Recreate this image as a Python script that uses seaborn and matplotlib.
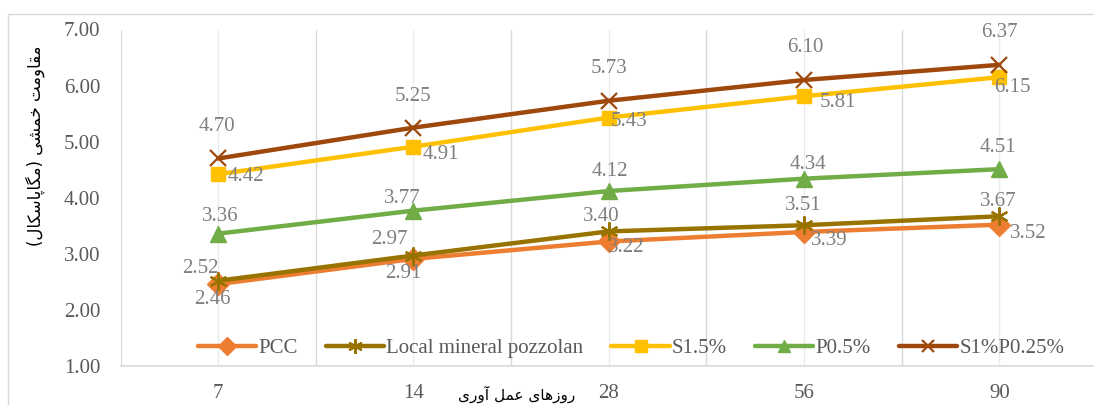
import numpy as np
import pandas as pd
import matplotlib
matplotlib.use("Agg")
import matplotlib.pyplot as plt
from matplotlib.patches import Rectangle
import seaborn as sns

# ---------------- data ----------------
days = ["7", "14", "28", "56", "90"]
series_names = ["PCC", "Local mineral pozzolan", "S1.5%", "P0.5%", "S1%P0.25%"]
pcc = [2.46, 2.91, 3.22, 3.39, 3.52]
local_pozzolan = [2.52, 2.97, 3.40, 3.51, 3.67]
s15 = [4.42, 4.91, 5.43, 5.81, 6.15]
p05 = [3.36, 3.77, 4.12, 4.34, 4.51]
s1p025 = [4.70, 5.25, 5.73, 6.10, 6.37]
yticks = [1, 2, 3, 4, 5, 6, 7]
ylabel_text = "مقاومت خمشی (مگاپاسکال)"
xlabel_text = "روزهای عمل آوری"

values = [pcc, local_pozzolan, s15, p05, s1p025]
df = pd.DataFrame({
    "day": [d for _ in series_names for d in days],
    "value": [v for vals in values for v in vals],
    "series": [n for n in series_names for _ in days],
})

# ---------------- styles ----------------
styles = {
    "PCC": dict(color="#ED7D31", marker="D", ms=11, mew=1.0),
    "Local mineral pozzolan": dict(color="#997300", marker=(6, 2, 0), ms=13, mew=1.6),
    "S1.5%": dict(color="#FFC000", marker="s", ms=10.5, mew=1.0),
    "P0.5%": dict(color="#70AD47", marker="^", ms=11.5, mew=1.0),
    "S1%P0.25%": dict(color="#9E480E", marker="x", ms=11, mew=1.6),
}
# label offsets in pixels (dx right, dy down)
label_offsets = {
    "PCC": [(-6, 16), (-10, 16), (17, 7), (25, 10), (29, 10)],
    "Local mineral pozzolan": [(-18, -11), (-24, -15), (-8, -14), (-1, -19), (-1, -14)],
    "S1.5%": [(28, 3), (27, 9), (20, 5), (34, 7), (13, 11)],
    "P0.5%": [(2, -16), (-11, -11), (1, -19), (4, -13), (-1, -21)],
    "S1%P0.25%": [(-1, -31), (0, -30), (0, -31), (1, -31), (0, -31)],
}

# ---------------- arabic shaping helper ----------------
FORMS = {
    "\u0627": ("\uFE8D", "\uFE8E", None, None),
    "\u0622": ("\uFE81", "\uFE82", None, None),
    "\u0648": ("\uFEED", "\uFEEE", None, None),
    "\u0631": ("\uFEAD", "\uFEAE", None, None),
    "\u0632": ("\uFEAF", "\uFEB0", None, None),
    "\u067E": ("\uFB56", "\uFB57", "\uFB58", "\uFB59"),
    "\u062A": ("\uFE95", "\uFE96", "\uFE97", "\uFE98"),
    "\u062E": ("\uFEA5", "\uFEA6", "\uFEA7", "\uFEA8"),
    "\u0633": ("\uFEB1", "\uFEB2", "\uFEB3", "\uFEB4"),
    "\u0634": ("\uFEB5", "\uFEB6", "\uFEB7", "\uFEB8"),
    "\u0639": ("\uFEC9", "\uFECA", "\uFECB", "\uFECC"),
    "\u0642": ("\uFED5", "\uFED6", "\uFED7", "\uFED8"),
    "\u06A9": ("\uFB8E", "\uFB8F", "\uFB90", "\uFB91"),
    "\u0643": ("\uFB8E", "\uFB8F", "\uFB90", "\uFB91"),
    "\u06AF": ("\uFB92", "\uFB93", "\uFB94", "\uFB95"),
    "\u0644": ("\uFEDD", "\uFEDE", "\uFEDF", "\uFEE0"),
    "\u0645": ("\uFEE1", "\uFEE2", "\uFEE3", "\uFEE4"),
    "\u0647": ("\uFEE9", "\uFEEA", "\uFEEB", "\uFEEC"),
    "\u06CC": ("\uFBFC", "\uFBFD", "\uFBFE", "\uFBFF"),
    "\u064A": ("\uFBFC", "\uFBFD", "\uFBFE", "\uFBFF"),
    "\u0649": ("\uFBFC", "\uFBFD", "\uFBFE", "\uFBFF"),
}


def shape_rtl(s):
    chars = list(s)
    out = []
    for i, c in enumerate(chars):
        if c not in FORMS:
            out.append(c)
            continue
        prev = chars[i - 1] if i > 0 else None
        nxt = chars[i + 1] if i + 1 < len(chars) else None
        f = FORMS[c]
        jp = prev in FORMS and FORMS[prev][2] is not None
        jn = f[2] is not None and nxt in FORMS
        if jp and jn:
            g = f[3]
        elif jp:
            g = f[1]
        elif jn:
            g = f[2]
        else:
            g = f[0]
        out.append(g)
    vis = "".join(reversed(out))
    return vis.translate(str.maketrans("()", ")("))


# ---------------- figure ----------------
sns.set_style("white")
plt.rcParams["font.family"] = ["Liberation Serif", "DejaVu Sans"]

W, H = 1094, 405
fig = plt.figure(figsize=(W / 100, H / 100), dpi=100)
ax = fig.add_axes([120.5 / W, 1 - 366 / H, 976.5 / W, (366 - 29.5) / H])

for name in series_names:
    st = styles[name]
    sub = df[df["series"] == name]
    sns.lineplot(data=sub, x="day", y="value", ax=ax, sort=False,
                 color=st["color"], linewidth=3.2, marker=st["marker"],
                 markersize=st["ms"], markeredgecolor=st["color"],
                 markerfacecolor=st["color"], markeredgewidth=st["mew"],
                 label=name, solid_capstyle="round", solid_joinstyle="round")

for name, vals in zip(series_names, values):
    for i, v in enumerate(vals):
        dx, dy = label_offsets[name][i]
        ax.annotate(f"{v:.2f}", xy=(i, v), xytext=(dx, -dy + 1),
                    textcoords="offset pixels", ha="center", va="center",
                    fontsize=15, color="#7F7F7F", zorder=5)

ax.set_xlim(-0.5, len(days) - 0.5)
ax.set_ylim(1, 7)
ax.set_yticks(yticks)
ax.set_yticklabels([f"{t:.2f}" for t in yticks])
ax.set_xticks(range(len(days)))
ax.set_xticklabels(days)
ax.set_xticks(np.arange(-0.5, len(days), 1.0), minor=True)
ax.grid(which="major", axis="x", color="#EBEBEB", lw=1.0)
ax.grid(which="minor", axis="x", color="#D9D9D9", lw=1.0)
ax.grid(axis="y", visible=False)
ax.set_axisbelow(True)
ax.tick_params(which="both", length=0)
ax.tick_params(axis="y", pad=14.5, labelsize=15, labelcolor="#595959")
ax.tick_params(axis="x", pad=13, labelsize=15, labelcolor="#595959")
for sp in ["top", "right", "left"]:
    ax.spines[sp].set_visible(False)
ax.spines["bottom"].set_color("#D9D9D9")
ax.spines["bottom"].set_linewidth(1.2)
ax.set_xlabel("")
ax.set_ylabel("")

handles, labels = ax.get_legend_handles_labels()
leg = ax.legend(handles, labels, loc="center", bbox_to_anchor=(631 / W, 1 - 348 / H),
                bbox_transform=fig.transFigure, ncol=5, frameon=False,
                fontsize=15, handlelength=2.8, handletextpad=0.1,
                columnspacing=1.35, markerscale=0.8)
for t in leg.get_texts():
    t.set_color("#595959")

# outer chart frame
fig.add_artist(Rectangle((8 / W, -0.5), 2.0, 0.5 + (1 - 14 / H),
                         transform=fig.transFigure, fill=False,
                         edgecolor="#D9D9D9", lw=1.0))

fig.text(35 / W, 1 - 146 / H, shape_rtl(ylabel_text), rotation=90,
         ha="center", va="center", fontsize=12, color="black",
         family=["DejaVu Sans"])
fig.text(517 / W, 1 - 400 / H, shape_rtl(xlabel_text), ha="center",
         va="baseline", fontsize=11, color="black", family=["DejaVu Sans"])

fig.savefig("out.png", dpi=100)
